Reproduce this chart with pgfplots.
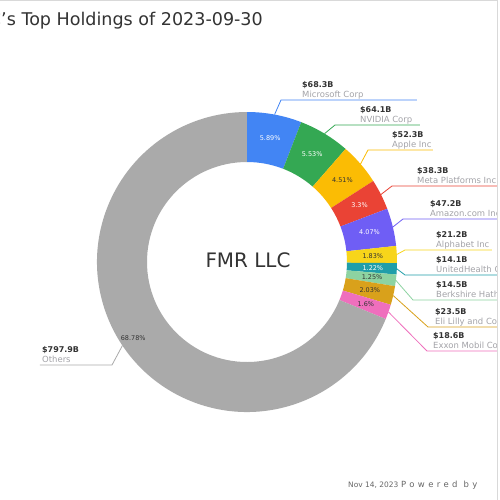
\documentclass[border=0pt]{standalone}
\usepackage{pgfplots}
\pgfplotsset{compat=1.18}
\usepackage{fontspec}
\setmainfont{DejaVu Sans}
\definecolor{cA}{HTML}{4285F4}
\definecolor{cB}{HTML}{34A853}
\definecolor{cC}{HTML}{FBBC04}
\definecolor{cD}{HTML}{EA4335}
\definecolor{cE}{HTML}{6F5EF5}
\definecolor{cF}{HTML}{F7D51A}
\definecolor{cG}{HTML}{1F9EA9}
\definecolor{cH}{HTML}{8DD3A1}
\definecolor{cI}{HTML}{D9A11B}
\definecolor{cJ}{HTML}{EF6FBD}
\definecolor{cK}{HTML}{AAAAAA}
\definecolor{dark}{HTML}{333333}
\definecolor{namegray}{HTML}{A3A3A8}
\tikzset{
  pct/.style={font=\fontsize{6.5}{7}\selectfont, inner sep=0pt},
  val/.style={font=\bfseries\fontsize{8}{9}\selectfont, text=dark, anchor=base west, inner sep=0pt},
  nam/.style={font=\fontsize{8.5}{9}\selectfont, text=namegray, anchor=base west, inner sep=0pt},
}
\begin{document}
\begin{tikzpicture}
\useasboundingbox (0,0) rectangle (500bp,500bp);
\fill[white] (0,0) rectangle (500bp,500bp);
\begin{scope}
\clip (0,0) rectangle (497bp,500bp);
\begin{axis}[at={(0,0)}, anchor=south west, x=1bp, y=1bp,
  xmin=0, xmax=500, ymin=0, ymax=500, y dir=reverse,
  hide axis, scale only axis, clip=false]
\gdef\acc{0}
% value ($B) / colour / pct text colour / pct radius / pct text / corner x / corner y / end x / text x / value text / name
\foreach \v/\c/\tc/\r/\t/\kx/\ky/\ex/\vx/\val/\name in {
  68.3/cA/white/126/5.89\%/281/100/417/302/\$68.3B/Microsoft Corp,
  64.1/cB/white/126/5.53\%/335/125/420/360/\$64.1B/NVIDIA Corp,
  52.3/cC/dark/126/4.51\%/368/150/433/392/\$52.3B/Apple Inc,
  38.3/cD/white/126/3.3\%/392/186/520/417/\$38.3B/Meta Platforms Inc,
  47.2/cE/white/126/4.07\%/403/219/520/430/\$47.2B/Amazon.com Inc,
  21.2/cF/dark/126/1.83\%/405/250/492/436/\$21.2B/Alphabet Inc,
  14.1/cG/white/126/1.22\%/405/275/520/436/\$14.1B/UnitedHealth Group Inc,
  14.5/cH/dark/126/1.25\%/413/300/520/436/\$14.5B/Berkshire Hathaway Inc,
  23.5/cI/dark/126/2.03\%/428/327/520/435/\$23.5B/Eli Lilly and Co,
  18.6/cJ/dark/126/1.6\%/427/351/520/433/\$18.6B/Exxon Mobil Corp,
  797.9/cK/dark/137/68.78\%/112/365/40/42/\$797.9B/Others}{
  \pgfmathsetmacro\s{\acc}
  \pgfmathsetmacro\e{\acc+\v/1160*360}
  \pgfmathsetmacro\a{90-\s}
  \pgfmathsetmacro\b{90-\e}
  \pgfmathsetmacro\m{90-(\s+\e)/2}
  \xdef\acc{\e}
  \pgfmathsetmacro\vy{\ky-13}
  \pgfmathsetmacro\ny{\ky-3}
  \edef\temp{%
    \noexpand\fill[\c] ([shift={(\a:150bp)}]axis cs:247,262) arc[start angle=\a, end angle=\b, radius=150bp]
      -- ([shift={(\b:100bp)}]axis cs:247,262) arc[start angle=\b, end angle=\a, radius=100bp] -- cycle;
    \noexpand\node[pct, text=\tc] at ([shift={(\m:\r bp)}]axis cs:247,262) {\unexpanded\expandafter{\t}};
    \noexpand\draw[\c, line width=0.8bp] ([shift={(\m:150bp)}]axis cs:247,262) -- (axis cs:\kx,\ky) -- (axis cs:\ex,\ky);
    \noexpand\node[val] at (axis cs:\vx,\vy) {\unexpanded\expandafter{\val}};
    \noexpand\node[nam] at (axis cs:\vx,\ny) {\unexpanded\expandafter{\name}};
  }%
  \temp
}
\node[font=\fontsize{20}{24}\selectfont, text=dark, inner sep=0pt] at (axis cs:248,260.5) {FMR LLC};
\node[anchor=base east, font=\fontsize{17.6}{21}\selectfont, text=dark, inner sep=0pt] at (axis cs:263,25) {FMR LLC's Top Holdings of 2023-09-30};
\node[anchor=base west, font=\fontsize{7.5}{8}\selectfont, text=black!60, inner sep=0pt] at (axis cs:348,487) {Nov 14, 2023};
\node[anchor=base west, font=\fontsize{8.5}{9}\selectfont\addfontfeature{LetterSpace=40}, text=black!60, inner sep=0pt] at (axis cs:401,487) {Powered by};
\end{axis}
\end{scope}
\draw[black!15, line width=0.8bp] (0,499.5bp) -- (497bp,499.5bp);
\draw[black!15, line width=0.8bp] (497bp,0) -- (497bp,500bp);
\end{tikzpicture}
\end{document}
